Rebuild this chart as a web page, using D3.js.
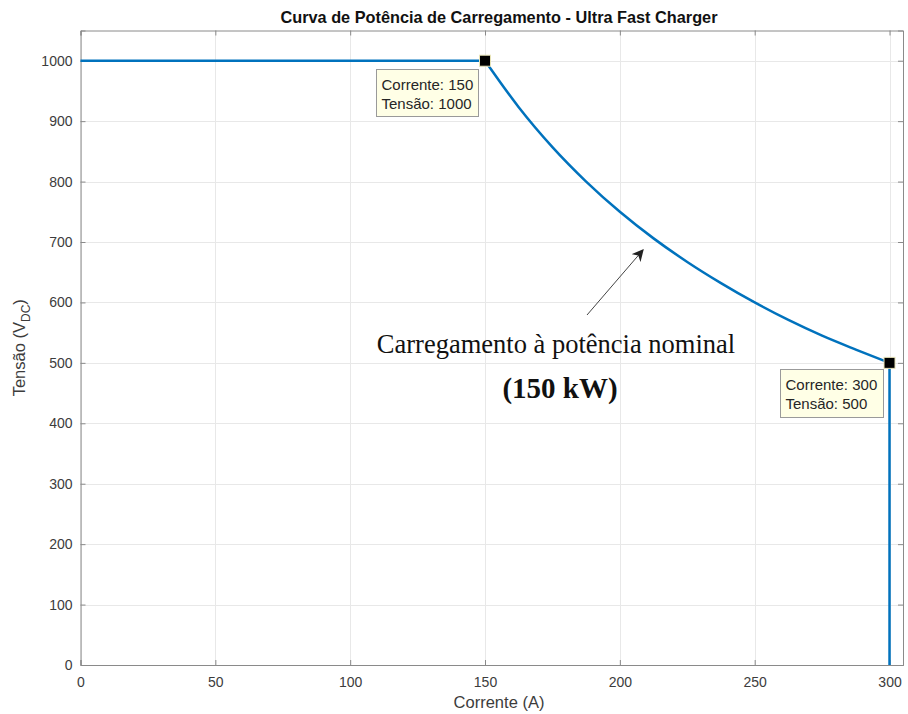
<!DOCTYPE html>
<html>
<head>
<meta charset="utf-8">
<script src="https://cdn.jsdelivr.net/npm/d3@7"></script>
<style>
  html, body { margin: 0; padding: 0; background: #fff; }
  svg { display: block; }
</style>
</head>
<body>
<svg id="chart" width="908" height="714"></svg>
<script>
// Constant-voltage region (A, V)
const cvCurrent = [0, 150];
const cvVoltage = [1000, 1000];

// Constant-power region at 150 kW (A, V)
const cpCurrent = [150, 162.5, 175, 187.5, 200, 212.5, 225, 237.5, 250, 262.5, 275, 287.5, 300];
const cpVoltage = [1000, 923, 857, 800, 750, 706, 667, 632, 600, 571, 545, 522, 500];

// Current-limit region (A, V)
const ccCurrent = [300, 300];
const ccVoltage = [500, 0];

// Highlighted data tips
const tipCurrent = [150, 300];
const tipVoltage = [1000, 500];

const xTicks = [0, 50, 100, 150, 200, 250, 300];
const yTicks = [0, 100, 200, 300, 400, 500, 600, 700, 800, 900, 1000];

const svg = d3.select("#chart");
const margin = { left: 80.5, right: 5, top: 30.5, bottom: 49 };
const W = 908, H = 714;

const x = d3.scaleLinear().domain([0, 305]).range([margin.left, W - margin.right]);
const y = d3.scaleLinear().domain([0, 1050]).range([H - margin.bottom, margin.top]);

const axisColor = "#8a8a8a";
const textColor = "#3c3c3c";
const font = "Arial, 'Liberation Sans', Helvetica, sans-serif";
const serif = "'Liberation Serif', 'Times New Roman', serif";
const lineColor = "#0072BD";
const labelCenterX = 499;

// Grid
const grid = svg.append("g");
grid.selectAll("line.gx").data(xTicks).join("line")
  .attr("x1", d => Math.round(x(d)) + 0.5).attr("x2", d => Math.round(x(d)) + 0.5)
  .attr("y1", y(0)).attr("y2", y(1050))
  .attr("stroke", "#e8e8e8").attr("stroke-width", 1);
grid.selectAll("line.gy").data(yTicks).join("line")
  .attr("y1", d => Math.round(y(d)) + 0.5).attr("y2", d => Math.round(y(d)) + 0.5)
  .attr("x1", x(0)).attr("x2", x(305))
  .attr("stroke", "#e8e8e8").attr("stroke-width", 1);

// Axes (ticks pointing inward, boxed)
const xAxis = svg.append("g").attr("transform", `translate(0,${y(0)})`)
  .call(d3.axisBottom(x).tickValues(xTicks).tickSize(-5).tickPadding(12).tickFormat(d3.format("d")));
const xTop = svg.append("g").attr("transform", `translate(0,${y(1050)})`)
  .call(d3.axisTop(x).tickValues(xTicks).tickSize(-5).tickFormat(""));
const yAxis = svg.append("g").attr("transform", `translate(${x(0)},0)`)
  .call(d3.axisLeft(y).tickValues(yTicks).tickSize(-5).tickPadding(8).tickFormat(d3.format("d")));
const yRight = svg.append("g").attr("transform", `translate(${x(305)},0)`)
  .call(d3.axisRight(y).tickValues(yTicks).tickSize(-5).tickFormat(""));

[xAxis, xTop, yAxis, yRight].forEach(g => {
  g.selectAll("path.domain").attr("stroke", axisColor).attr("stroke-width", 1);
  g.selectAll(".tick line").attr("stroke", axisColor);
  g.selectAll("text").attr("fill", textColor).style("font-family", font).style("font-size", "14px");
});

// Curve segments
const straight = d3.line().x(d => x(d[0])).y(d => y(d[1]));
const smooth = d3.line().x(d => x(d[0])).y(d => y(d[1])).curve(d3.curveMonotoneX);

svg.append("path")
  .datum(cvCurrent.map((c, i) => [c, cvVoltage[i]]))
  .attr("d", straight)
  .attr("fill", "none").attr("stroke", lineColor).attr("stroke-width", 2.5);
svg.append("path")
  .datum(cpCurrent.map((c, i) => [c, cpVoltage[i]]))
  .attr("d", smooth)
  .attr("fill", "none").attr("stroke", lineColor).attr("stroke-width", 2.5);
svg.append("path")
  .datum(ccCurrent.map((c, i) => [c, ccVoltage[i]]))
  .attr("d", straight)
  .attr("fill", "none").attr("stroke", lineColor).attr("stroke-width", 2.5);

// Data tip markers
svg.selectAll("rect.marker").data(tipCurrent).join("rect")
  .attr("x", d => x(d) - 5.5).attr("y", (d, i) => y(tipVoltage[i]) - 5.5)
  .attr("width", 11).attr("height", 11)
  .attr("fill", "#000").attr("stroke", "#e8e4b8").attr("stroke-width", 1);

// Data tip boxes
const tipOffsets = [{ dx: -109, dy: 8, w: 102, h: 47 }, { dx: -110, dy: 6, w: 103, h: 48 }];
tipCurrent.forEach((c, i) => {
  const o = tipOffsets[i];
  const bx = Math.round(x(c) + o.dx) + 0.5, by = Math.round(y(tipVoltage[i]) + o.dy) + 0.5;
  const g = svg.append("g");
  g.append("rect").attr("x", bx).attr("y", by).attr("width", o.w).attr("height", o.h)
    .attr("fill", "#ffffe6").attr("stroke", "#9a9a9a").attr("stroke-width", 1);
  g.append("text").attr("x", bx + 5).attr("y", by + 20)
    .attr("fill", "#262626").style("font-family", font).style("font-size", "15px")
    .text(`Corrente: ${c}`);
  g.append("text").attr("x", bx + 5).attr("y", by + 39)
    .attr("fill", "#262626").style("font-family", font).style("font-size", "15px")
    .text(`Tensão: ${tipVoltage[i]}`);
});

// Annotation arrow
svg.append("defs").append("marker")
  .attr("id", "arrowhead").attr("viewBox", "0 0 10 10")
  .attr("refX", 9).attr("refY", 5).attr("markerWidth", 12).attr("markerHeight", 12)
  .attr("markerUnits", "userSpaceOnUse").attr("orient", "auto")
  .append("path").attr("d", "M0,0 L10,5 L0,10 L3,5 Z").attr("fill", "#222");

svg.append("line")
  .attr("x1", 587).attr("y1", 315).attr("x2", 643).attr("y2", 250)
  .attr("stroke", "#444").attr("stroke-width", 1)
  .attr("marker-end", "url(#arrowhead)");

svg.append("text").attr("x", 556).attr("y", 353).attr("text-anchor", "middle")
  .style("font-family", serif).style("font-size", "26.5px")
  .attr("fill", "#111").text("Carregamento à potência nominal");
svg.append("text").attr("x", 560).attr("y", 398).attr("text-anchor", "middle")
  .style("font-family", serif).style("font-size", "29px")
  .style("font-weight", "bold").attr("fill", "#111").text("(150 kW)");

// Titles
svg.append("text").attr("x", labelCenterX).attr("y", 23).attr("text-anchor", "middle")
  .style("font-family", font).style("font-size", "16.3px").style("font-weight", "bold")
  .attr("fill", "#111").text("Curva de Potência de Carregamento - Ultra Fast Charger");

svg.append("text").attr("x", labelCenterX).attr("y", 708).attr("text-anchor", "middle")
  .style("font-family", font).style("font-size", "16.5px").attr("fill", textColor)
  .text("Corrente (A)");

const yl = svg.append("text")
  .attr("transform", `translate(25,${(y(0) + y(1050)) / 2}) rotate(-90)`)
  .attr("text-anchor", "middle")
  .style("font-family", font).style("font-size", "16.5px").attr("fill", textColor);
yl.append("tspan").text("Tensão (V");
yl.append("tspan").attr("dy", 5).style("font-size", "12px").text("DC");
yl.append("tspan").attr("dy", -5).text(")");
</script>
</body>
</html>
